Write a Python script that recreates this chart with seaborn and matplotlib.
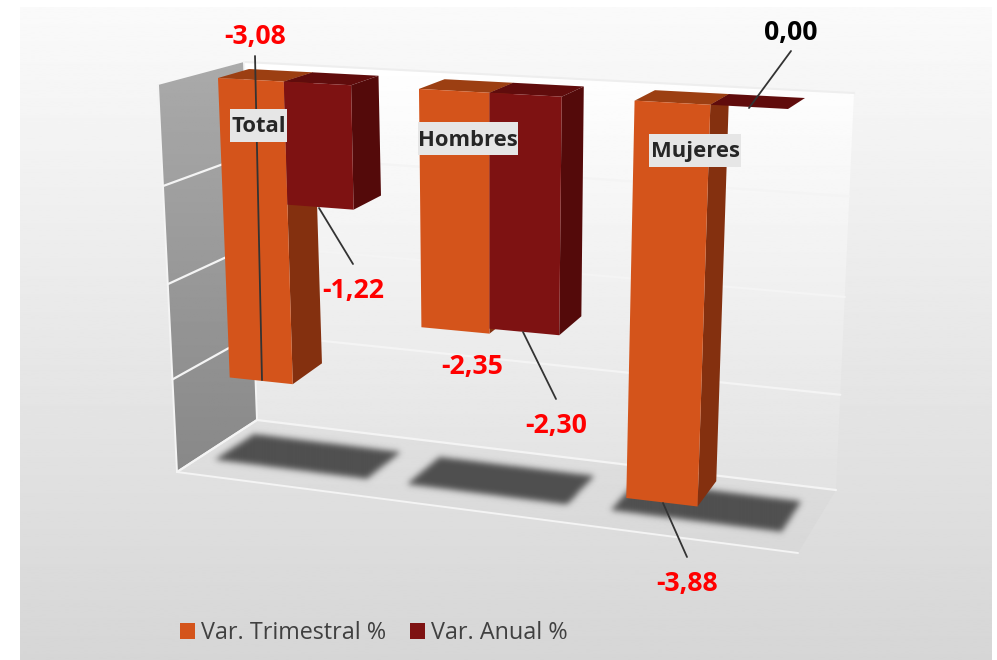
#!/usr/bin/env python3
# -*- coding: utf-8 -*-
import numpy as np
import pandas as pd
import seaborn as sns
import matplotlib
matplotlib.use("Agg")
import matplotlib.pyplot as plt
import matplotlib.transforms as mtransforms
from matplotlib.patches import Polygon, Rectangle
from matplotlib.path import Path

# data
categories = ['Total', 'Hombres', 'Mujeres']
var_trimestral = [-3.08, -2.35, -3.88]
var_anual = [-1.22, -2.30, 0.00]
series_names = ['Var. Trimestral %', 'Var. Anual %']
value_ticks = [0, -1, -2, -3, -4]

W, H = 997, 660
BAR_WIDTH = 0.67
XL, XR = -0.335, 2.335


def homography(src, dst):
    # plain 4 point solve
    A, b = [], []
    for (x, y), (u, v) in zip(src, dst):
        A.append([x, y, 1, 0, 0, 0, -u * x, -u * y])
        A.append([0, 0, 0, x, y, 1, -v * x, -v * y])
        b += [u, v]
    h = np.linalg.solve(np.array(A, float), np.array(b, float))
    return np.append(h, 1).reshape(3, 3)


class PlaneProjection(mtransforms.Transform):
    input_dims = 2
    output_dims = 2
    is_separable = False
    has_inverse = False

    def __init__(self, m):
        super().__init__()
        self.m = m

    def transform_non_affine(self, values):
        pts = np.asarray(values, float)
        p = np.column_stack([pts, np.ones(len(pts))]) @ self.m.T
        return p[:, :2] / p[:, 2:]


box = [(XL, 0), (XR, 0), (XL, -4), (XR, -4)]
front = PlaneProjection(homography(box, [(218, 78), (788, 109), (233, 462), (770, 527)]))
back = PlaneProjection(homography(box, [(249, 69), (805, 98), (264, 438), (787, 501)]))
# chart walls, x -0.5..2.5
frame = [(-0.5, 0), (2.5, 0), (-0.5, -4), (2.5, -4)]
wall = PlaneProjection(homography(frame, [(244, 62), (854, 93), (257, 420), (836, 490)]))
side_wall = PlaneProjection(homography([(0, 0), (1, 0), (0, -4), (1, -4)],
                                       [(158, 85), (244, 62), (177, 472), (257, 420)]))
floor = PlaneProjection(homography([(-0.5, 0), (2.5, 0), (-0.5, 1), (2.5, 1)],
                                   [(177, 472), (798, 553), (257, 420), (836, 490)]))

sns.set_theme(style="white")
plt.rcParams['font.family'] = ['Open Sans', 'DejaVu Sans']

fig = plt.figure(figsize=(W / 100, H / 100), dpi=100, facecolor='white')
ax = fig.add_axes([0, 0, 1, 1])


def gradient(poly, top, bottom, zorder):
    # vertical grey gradient clipped to a polygon
    poly = np.array(poly, float)
    y0, y1 = poly[:, 1].min(), poly[:, 1].max()
    grad = np.linspace(top, bottom, 256).reshape(-1, 1)
    im = ax.imshow(grad, cmap='gray', vmin=0, vmax=255, aspect='auto',
                   extent=[poly[:, 0].min(), poly[:, 0].max(), y1, y0], zorder=zorder)
    im.set_clip_path(Polygon(poly, transform=ax.transData))


def soft_polygon(poly, color, blur, zorder):
    # blurred shadow on the floor
    poly = np.array(poly)
    x0, y0 = np.floor(poly.min(axis=0)).astype(int) - 3 * blur
    x1, y1 = np.ceil(poly.max(axis=0)).astype(int) + 3 * blur
    xx, yy = np.meshgrid(np.arange(x0, x1), np.arange(y0, y1))
    mask = Path(poly).contains_points(np.column_stack([xx.ravel(), yy.ravel()]))
    mask = mask.reshape(xx.shape).astype(float)
    k = np.exp(-np.arange(-3 * blur, 3 * blur + 1) ** 2 / (2.0 * (blur / 1.6) ** 2))
    k /= k.sum()
    mask = np.apply_along_axis(lambda r: np.convolve(r, k, mode='same'), 0, mask)
    mask = np.apply_along_axis(lambda r: np.convolve(r, k, mode='same'), 1, mask)
    rgba = np.zeros(mask.shape + (4,))
    rgba[..., :3] = matplotlib.colors.to_rgb(color)
    rgba[..., 3] = mask
    ax.imshow(rgba, extent=[x0, x1, y1, y0], aspect='auto', zorder=zorder)


# background and walls
gradient([(20, 7), (992, 7), (992, H), (20, H)], 250, 214, 0)
wall_poly = [(244, 62), (854, 93), (836, 490), (257, 420)]
gradient(wall_poly, 255, 226, 1)
gradient([(158, 85), (244, 62), (257, 420), (177, 472)], 170, 136, 1)
gradient([(177, 472), (257, 420), (836, 490), (798, 553)], 224, 216, 1)

ax.plot(*np.array(wall_poly[:2]).T, color='#eeeeee', lw=1.5, zorder=1.5)
for v in value_ticks[1:]:
    pts = wall.transform(np.array([(-0.5, v), (2.5, v)]))
    ax.plot(pts[:, 0], pts[:, 1], color='#f4f4f4', lw=1.6, zorder=1.5)
    pts = side_wall.transform(np.array([(0, v), (1, v)]))
    ax.plot(pts[:, 0], pts[:, 1], color='#f4f4f4', lw=1.6, zorder=1.5)
for a, b in [((177, 472), (798, 553)), ((177, 472), (257, 420)),
             ((158, 85), (177, 472)), ((244, 62), (257, 420))]:
    ax.plot([a[0], b[0]], [a[1], b[1]], color='#f4f4f4', lw=1.4, zorder=1.5)

for i in range(len(categories)):
    corners = [(i - 0.42, 0.27), (i + 0.37, 0.27), (i + 0.37, 0.76), (i - 0.42, 0.76)]
    soft_polygon(floor.transform(np.array(corners)), '#4f4f4f', 5, 2)

# bars
df = pd.DataFrame({
    'categoria': categories * 2,
    'serie': [series_names[0]] * 3 + [series_names[1]] * 3,
    'valor': var_trimestral + var_anual,
})
front_colors = ['#D4541B', '#7E1212']
top_colors = ['#9C3F12', '#600C0C']
side_colors = ['#84300F', '#540A0A']

sns.barplot(data=df, x='categoria', y='valor', hue='serie', order=categories,
            hue_order=series_names, palette=front_colors, width=BAR_WIDTH, gap=0,
            saturation=1, errorbar=None, ax=ax)

for s, cont in enumerate(ax.containers):
    for c, bar in enumerate(cont.patches):
        x0, x1 = bar.get_x(), bar.get_x() + bar.get_width()
        v = bar.get_height()
        z = 3 + c + 0.1 * s
        bar.set_transform(front + ax.transData)
        bar.set_linewidth(0)
        bar.set_zorder(z + 0.02)
        top = np.vstack([front.transform(np.array([(x0, 0), (x1, 0)])),
                         back.transform(np.array([(x1, 0), (x0, 0)]))])
        ax.add_patch(Polygon(top, closed=True, fc=top_colors[s], lw=0, zorder=z))
        if v != 0:
            side = np.vstack([front.transform(np.array([(x1, 0), (x1, v)])),
                              back.transform(np.array([(x1, v), (x1, 0)]))])
            ax.add_patch(Polygon(side, closed=True, fc=side_colors[s], lw=0, zorder=z + 0.01))

# labels
value_labels = var_trimestral + var_anual
value_pos = [(255, 37), (472, 367), (687, 584), (353, 291), (556, 426), (791, 33)]
leaders = [((255, 56), (262, 380)), None, ((663, 503), (687, 557)),
           ((319, 208), (353, 264)), ((523, 332), (556, 399)), ((791, 51), (749, 108))]
for val, pos, lead in zip(value_labels, value_pos, leaders):
    if lead is not None:
        ax.plot([lead[0][0], lead[1][0]], [lead[0][1], lead[1][1]],
                color='#333333', lw=1.3, zorder=9)
    ax.text(pos[0], pos[1], f"{val:.2f}".replace('.', ','), ha='center', va='center',
            fontsize=19.2, fontweight='bold', color='red' if val < 0 else 'black', zorder=10)

cat_boxes = [(230, 109, 57, 33), (418, 122, 100, 33), (649, 134, 92, 33)]
for name, (bx, by, bw, bh) in zip(categories, cat_boxes):
    ax.add_patch(Rectangle((bx, by), bw, bh, fc='#e6e6e6', lw=0, zorder=9.5))
    ax.text(bx + bw / 2, by + bh / 2 + 1.5, name, ha='center', va='center', fontsize=15.8,
            fontweight='bold', color='#262626', zorder=10)

ax.set_xlim(0, W)
ax.set_ylim(H, 0)
ax.set_axis_off()

sns.move_legend(ax, loc='center left', bbox_to_anchor=(180 / W, 1 - 633 / H), ncol=2,
                frameon=False, title=None, fontsize=16.8, labelcolor='#404040',
                handlelength=0.64, handleheight=0.64, handletextpad=0.26, columnspacing=1.03,
                borderaxespad=0, borderpad=0)
for handle in ax.get_legend().legend_handles:
    handle.set_linewidth(0)

fig.savefig('out.png', dpi=100)
